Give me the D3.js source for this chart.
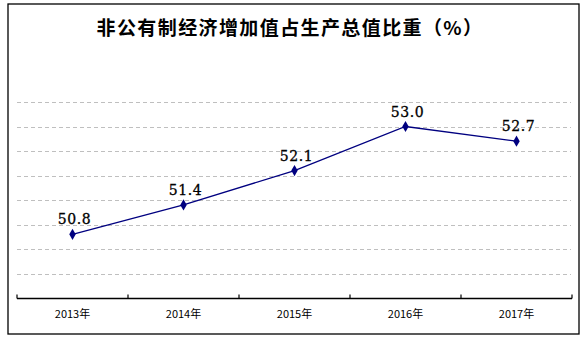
<!DOCTYPE html>
<html><head><meta charset="utf-8">
<script src="https://cdn.jsdelivr.net/npm/d3@7"></script>
<style>body{margin:0;background:#fff}</style>
</head><body>
<svg id="c" width="586" height="339"></svg>
<script>
const title = "非公有制经济增加值占生产总值比重（%）";
const categories = ["2013年","2014年","2015年","2016年","2017年"];
const values = [50.8, 51.4, 52.1, 53.0, 52.7];
const gridValues = [50, 50.5, 51, 51.5, 52, 52.5, 53, 53.5];

const svg = d3.select("#c");
svg.append("rect").attr("x",8).attr("y",4).attr("width",571).attr("height",330)
  .attr("fill","#fff").attr("stroke","#000").attr("stroke-width",1.3);

svg.append("text").attr("x",290).attr("y",35).attr("text-anchor","middle")
  .attr("font-family","'Noto Sans CJK SC'").attr("font-weight","bold")
  .attr("font-size",19).attr("letter-spacing",1.4).attr("fill","#000").text(title);

const x = d3.scaleBand().domain(categories).range([17,572]);
const y = d3.scaleLinear().domain([49.5,53.5]).range([298,102]);

svg.append("g").selectAll("line").data(gridValues).join("line")
  .attr("x1",17).attr("x2",571).attr("y1",d=>Math.round(y(d))+0.5).attr("y2",d=>Math.round(y(d))+0.5)
  .attr("stroke","#bfbfbf").attr("stroke-width",1).attr("stroke-dasharray","4,3");

const xAxis = d3.axisBottom(x).tickSize(0).tickPadding(12);
const ax = svg.append("g").attr("transform","translate(0,298.5)").call(xAxis);
ax.select(".domain").remove();
ax.append("line").attr("x1",17).attr("x2",572).attr("stroke","#000").attr("stroke-width",1.5);
const bounds = [...categories.map(c=>x(c)), 572];
ax.selectAll(".tk").data(bounds).join("line").attr("class","tk")
  .attr("x1",d=>d).attr("x2",d=>d).attr("y1",-4).attr("y2",0).attr("stroke","#000").attr("stroke-width",1.2);
ax.selectAll(".tick text").attr("font-family","'Noto Sans CJK SC'").attr("font-size",11).attr("fill","#000");

const cx = d => x(d) + x.bandwidth()/2;
const line = d3.line().x((d,i)=>cx(categories[i])).y(d=>y(d));
svg.append("path").datum(values).attr("d",line).attr("fill","none")
  .attr("stroke","#000080").attr("stroke-width",1.3);

svg.append("g").selectAll("path").data(values).join("path")
  .attr("transform",(d,i)=>`translate(${cx(categories[i])},${y(d)})`)
  .attr("d",d3.symbol(d3.symbolDiamond,36)()).attr("fill","#000080");

svg.append("g").selectAll("text").data(values).join("text")
  .attr("x",(d,i)=>cx(categories[i])+2).attr("y",d=>y(d)-10)
  .attr("text-anchor","middle").attr("font-family","'DejaVu Serif'").attr("font-size",14)
  .attr("letter-spacing",0.6).attr("stroke","#000").attr("stroke-width",0.3)
  .attr("fill","#000").text(d=>d.toFixed(1));
</script>
</body></html>
